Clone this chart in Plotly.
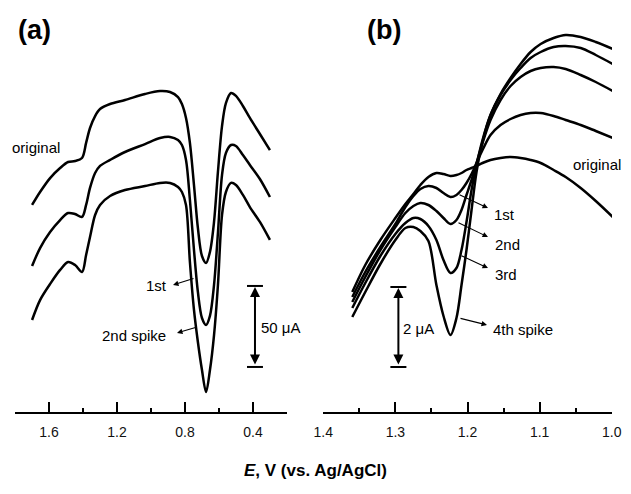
import plotly.graph_objects as go

# ---------------- Panel (a) data: potential (V) and current (µA, arbitrary offset)
a_E = [1.700, 1.653, 1.594, 1.535, 1.488, 1.447, 1.406, 1.382, 1.359, 1.329, 1.300,
       1.241, 1.153, 1.035, 0.947, 0.888, 0.841, 0.818, 0.794, 0.771, 0.747, 0.724,
       0.700, 0.676, 0.653, 0.629, 0.606, 0.582, 0.559, 0.529, 0.500, 0.459, 0.418,
       0.359, 0.300]
a_original = [127.8, 135.8, 144.4, 150.6, 154.3, 154.9, 156.8, 166.1, 175.3, 182.7, 187.0,
              190.1, 192.6, 196.3, 198.1, 197.5, 194.4, 190.1, 181.5, 166.1, 140.1, 113.6,
              96.3, 92.0, 98.8, 117.3, 148.2, 176.5, 190.7, 196.9, 195.1, 188.9, 181.5,
              171.6, 161.7]
a_1st = [90.1, 101.2, 111.1, 118.5, 122.8, 122.2, 120.4, 127.8, 138.3, 147.5, 151.9,
         155.6, 160.5, 165.4, 169.1, 169.8, 167.9, 164.8, 155.6, 130.9, 100.0, 74.1,
         58.0, 53.7, 59.3, 78.4, 110.5, 146.3, 159.9, 164.8, 164.2, 158.6, 152.5,
         143.8, 132.7]
a_2nd = [56.8, 69.1, 79.0, 87.7, 92.6, 90.7, 86.4, 96.9, 108.0, 121.6, 127.8,
         133.3, 137.0, 139.5, 141.4, 141.4, 138.9, 135.8, 127.8, 92.6, 63.0, 43.2,
         25.9, 12.3, 25.9, 47.5, 78.4, 121.6, 135.8, 141.4, 140.1, 134.0, 126.5,
         117.3, 106.2]
a_ticks = [1.6, 1.2, 0.8, 0.4]
a_ticklabels = ["1.6", "1.2", "0.8", "0.4"]
a_minor = [1.8, 1.4, 1.0, 0.6, 0.2]
a_scale_uA = 50
a_scale_base = 27.8
a_scale_E = 0.388

# ---------------- Panel (b) data
b_E = [1.3597, 1.3417, 1.3208, 1.3000, 1.2861, 1.2750, 1.2653, 1.2542, 1.2431, 1.2333,
       1.2236, 1.2153, 1.2083, 1.2014, 1.1944, 1.1875, 1.1792, 1.1681, 1.1542, 1.1403,
       1.1264, 1.1125, 1.0986, 1.0806, 1.0639, 1.0431, 1.0222, 0.9986]
b_original = [3.000, 3.675, 4.300, 4.850, 5.200, 5.450, 5.675, 5.875, 5.975, 5.950,
              5.900, 5.925, 5.975, 6.050, 6.100, 6.150, 6.225, 6.300, 6.350, 6.375,
              6.350, 6.300, 6.225, 6.050, 5.875, 5.600, 5.275, 4.875]
b_1st = [2.875, 3.500, 4.125, 4.700, 5.125, 5.400, 5.575, 5.650, 5.600, 5.475,
         5.375, 5.425, 5.550, 5.725, 5.950, 6.225, 6.550, 6.925, 7.175, 7.325,
         7.425, 7.475, 7.475, 7.400, 7.300, 7.175, 7.025, 6.850]
b_2nd = [2.750, 3.375, 4.050, 4.625, 4.975, 5.150, 5.225, 5.175, 5.025, 4.850,
         4.700, 4.800, 5.050, 5.425, 5.800, 6.225, 6.725, 7.300, 7.800, 8.150,
         8.375, 8.525, 8.600, 8.625, 8.575, 8.425, 8.250, 8.025]
b_3rd = [2.600, 3.225, 3.900, 4.450, 4.725, 4.850, 4.825, 4.650, 4.300, 3.800,
         3.475, 3.600, 4.050, 4.750, 5.550, 6.175, 6.800, 7.425, 7.925, 8.300,
         8.600, 8.850, 9.000, 9.125, 9.150, 9.100, 8.925, 8.700]
b_4th = [2.375, 3.000, 3.700, 4.300, 4.600, 4.625, 4.525, 4.275, 3.175, 2.400,
         1.925, 2.350, 3.175, 4.050, 5.050, 6.000, 6.750, 7.425, 7.950, 8.350,
         8.700, 9.000, 9.200, 9.350, 9.425, 9.375, 9.250, 9.075]
b_ticks = [1.4, 1.3, 1.2, 1.1, 1.0]
b_ticklabels = ["1.4", "1.3", "1.2", "1.1", "1.0"]
b_minor = [1.35, 1.25, 1.15, 1.05]
b_scale_uA = 2
b_scale_base = 1.125
b_scale_E = 1.2958

W, H = 631, 494
TOP, BOT = 12, 412  # plot area in pixels


def px(x):
    return x / W


def py(y):
    return (BOT - y) / (BOT - TOP)


FONT = "Arial, Liberation Sans, Helvetica, sans-serif"
line_style = dict(color="black", width=2.5, shape="spline", smoothing=0.9)

fig = go.Figure()
for ys in (a_original, a_1st, a_2nd):
    fig.add_trace(go.Scatter(x=a_E, y=ys, mode="lines", line=line_style,
                             xaxis="x", yaxis="y", hoverinfo="skip"))
for ys in (b_original, b_1st, b_2nd, b_3rd, b_4th):
    fig.add_trace(go.Scatter(x=b_E, y=ys, mode="lines", line=line_style,
                             xaxis="x2", yaxis="y2", hoverinfo="skip"))

axis_common = dict(showline=True, linecolor="black", linewidth=2, ticks="inside",
                   ticklen=10, tickwidth=2, tickcolor="black", showgrid=False,
                   zeroline=False, tickfont=dict(family=FONT, size=14, color="#111"),
                   ticklabelstandoff=6, fixedrange=True, automargin=False)

fig.update_layout(
    width=W, height=H,
    margin=dict(l=0, r=0, t=TOP, b=H - BOT, autoexpand=False),
    paper_bgcolor="white", plot_bgcolor="white",
    showlegend=False,
    xaxis=dict(domain=[15 / W, 287 / W], range=[1.8005, 0.1995], anchor="y",
               tickmode="array", tickvals=a_ticks, ticktext=a_ticklabels,
               minor=dict(tickmode="array", tickvals=a_minor, ticks="inside",
                          ticklen=4, tickwidth=2, tickcolor="black", showgrid=False),
               **axis_common),
    yaxis=dict(domain=[0, 1], range=[0, (BOT - TOP) / 1.62], visible=False,
               anchor="x", fixedrange=True, automargin=False),
    xaxis2=dict(domain=[323 / W, 612 / W], range=[1.4003, 0.9997], anchor="y2",
                tickmode="array", tickvals=b_ticks, ticktext=b_ticklabels,
                minor=dict(tickmode="array", tickvals=b_minor, ticks="inside",
                           ticklen=4, tickwidth=2, tickcolor="black", showgrid=False),
                **axis_common),
    yaxis2=dict(domain=[0, 1], range=[0, (BOT - TOP) / 40.0], visible=False,
                anchor="x2", fixedrange=True, automargin=False),
)

shapes = []
anns = []

# scale bars
for xr, yr, E0, base, length, half in (("x", "y", a_scale_E, a_scale_base, a_scale_uA, 0.047),
                                       ("x2", "y2", b_scale_E, b_scale_base, b_scale_uA, 0.0111)):
    for yv in (base, base + length):
        shapes.append(dict(type="line", xref=xr, yref=yr, x0=E0 - half, x1=E0 + half,
                           y0=yv, y1=yv, line=dict(color="black", width=2)))
    anns.append(dict(xref=xr, yref=yr, axref=xr, ayref=yr, x=E0, y=base + length,
                     ax=E0, ay=base, text="", showarrow=True, arrowside="end+start",
                     arrowhead=2, arrowsize=1.0, arrowwidth=2, arrowcolor="black",
                     standoff=1, startstandoff=1))


def text(x, y, s, anchor="left", size=15):
    anns.append(dict(xref="paper", yref="paper", x=px(x), y=py(y), text=s,
                     showarrow=False, xanchor=anchor, yanchor="middle",
                     font=dict(family=FONT, size=size, color="black")))


def pointer(x_tail, y_tail, x_head, y_head):
    anns.append(dict(xref="paper", yref="paper", x=px(x_head), y=py(y_head),
                     ax=x_tail - x_head, ay=y_tail - y_head, text="", showarrow=True,
                     arrowhead=2, arrowsize=1.0, arrowwidth=1.1, arrowcolor="black"))


# panel labels
text(16, 30, "<b>(a)</b>", size=27)
text(365, 30, "<b>(b)</b>", size=27)

# panel (a) labels
text(10, 147, "original")
text(169, 285, "1st", anchor="right")
pointer(195, 278, 173, 285)
text(168, 335, "2nd spike", anchor="right")
pointer(197, 327, 177, 333)
text(259, 327, "50 μA")

# panel (b) labels
text(571, 164, "original")
text(492, 214, "1st")
pointer(458, 194, 488, 208)
text(493, 244, "2nd")
pointer(457, 222, 488, 237)
text(493, 274, "3rd")
pointer(460, 255, 488, 268)
text(491, 329, "4th spike")
pointer(459, 318, 487, 325)
text(401, 328, "2 μA")

# axis title
anns.append(dict(xref="paper", yref="paper", x=px(315), y=py(470),
                 text="<b><i>E</i>, V (vs. Ag/AgCl)</b>", showarrow=False,
                 xanchor="center", yanchor="middle",
                 font=dict(family=FONT, size=17, color="black")))

fig.update_layout(shapes=shapes, annotations=anns)
fig.write_html("out.html")
